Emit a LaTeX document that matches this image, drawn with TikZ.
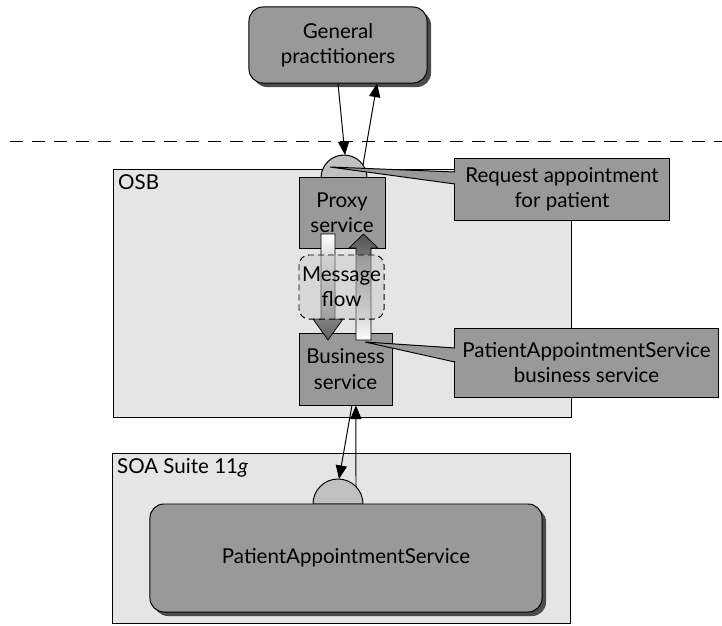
\documentclass[tikz,border=0pt]{standalone}
\usepackage{fontspec}
\setmainfont{Lato}
\usepackage{xcolor}
\usetikzlibrary{arrows.meta, positioning, shadows}
\definecolor{boxgray}{RGB}{153,153,153}
\definecolor{areagray}{RGB}{229,229,229}
\definecolor{domegray}{RGB}{192,192,192}

\begin{document}
\begin{tikzpicture}[x=0.025cm, y=-0.025cm, font=\fontsize{14.6}{18}\selectfont, line width=0.7pt,
    b/.style={draw, fill=boxgray, align=center, inner sep=1pt},
    rb/.style={b, rounded corners=0.35cm, general shadow={fill=black!70, shadow xshift=0.1cm, shadow yshift=-0.1cm}},
    area/.style={draw, fill=areagray, minimum width=11.425cm},
    dome/.style={draw, fill=domegray},
    arr/.style={-{Triangle[length=3.4mm, width=2.8mm]}},
    blk/.style={draw, line width=0.5pt}]
    \useasboundingbox (0,0) rectangle (722,625);
    \draw[dash pattern=on 0.33cm off 0.22cm] (10,141) -- (722,141);

    \node[area, minimum height=6.175cm, label={[anchor=north west, inner sep=3pt]north west:OSB}] (osb) at (342.5,293.5) {};
    \node[area, minimum height=4.225cm, label={[anchor=north west, inner sep=3pt]north west:SOA Suite 11\textit{g}}] (soa) at (341.5,538.5) {};

    \filldraw[dome] (321,178) arc[start angle=180, end angle=360, radius=23] -- cycle;
    \filldraw[dome] (313,504) arc[start angle=180, end angle=360, radius=25] -- cycle;
    \coordinate (pin) at (345,155);
    \coordinate (pout) at (363,165);
    \coordinate (sin) at (339,479);
    \coordinate (sout) at (356,487);

    \node[rb, minimum width=4.45cm, minimum height=1.9cm] (gp) at (338,45) {General\\practitioners};
    \node[b, minimum width=2.15cm, minimum height=1.775cm] (proxy) at (342,212.5) {Proxy\\service};
    \node[b, minimum width=2.325cm, minimum height=1.8cm] (bus) at (345.5,369) {Business\\service};
    \node[rb, minimum width=9.8cm, minimum height=2.7cm] (pas) at (346,558) {PatientAppointmentService};

    \node[b, minimum width=5.35cm, minimum height=1.55cm] (req) at (562,189) {Request appointment\\for patient};
    \node[b, minimum width=6.575cm, minimum height=1.725cm] (bsn) at (586.5,362.5) {PatientAppointmentService\\business service};
    \fill[boxgray] (330,167) -- (458,172) -- (458,184) -- cycle;
    \draw (455,172) -- (330,167) -- (455,184);
    \fill[boxgray] (365,342) -- (458,348) -- (458,362) -- cycle;
    \draw (455,348) -- (365,342) -- (455,362);

    \draw[blk, top color=white, bottom color=black!62] (321,234) -- (335,234) -- (335,319) -- (343,319) -- (328,340) -- (313,319) -- (321,319) -- cycle;
    \draw[blk, top color=black!68, bottom color=white] (356,340) -- (371,340) -- (371,248) -- (378,248) -- (363.5,234) -- (349,248) -- (356,248) -- cycle;
    \node[draw, dash pattern=on 0.15cm off 0.1cm, rounded corners=0.25cm, fill=black!22, fill opacity=0.45, text opacity=1, align=center, inner sep=1pt,
      minimum width=2.125cm, minimum height=1.6cm] (msg) at (341.5,287) {Message\\flow};

    \draw[arr] (gp.south) -- (pin);
    \draw[arr] (pout) -- ([xshift=0.975cm]gp.south);
    \draw[arr] ([xshift=0.16cm]bus.south) -- (sin);
    \draw[arr] (sout) -- ([xshift=0.26cm]bus.south);
\end{tikzpicture}
\end{document}
